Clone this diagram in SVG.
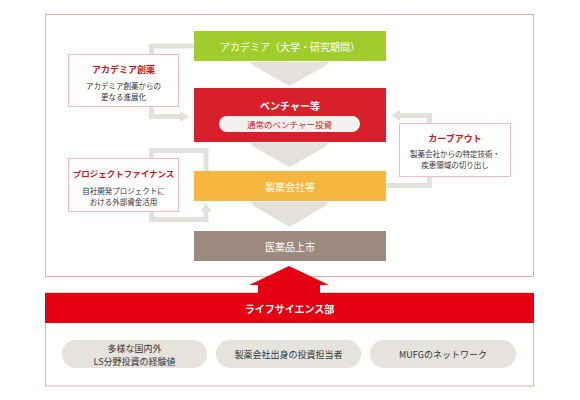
<svg xmlns="http://www.w3.org/2000/svg" width="580" height="400" viewBox="0 0 580 400">
  <style>
    text { font-family: "Noto Sans CJK JP", "Noto Sans", sans-serif; text-anchor: middle; dominant-baseline: central; }
    .wt { fill: #ffffff; font-size: 10px; }
    .wtb { fill: #ffffff; font-size: 10px; font-weight: bold; }
    .ttl { fill: #c8161e; font-size: 9px; font-weight: bold; }
    .sub { fill: #333333; font-size: 7.5px; }
    .pilltxt { fill: #333333; font-size: 9px; }
    .frame { fill: none; stroke: #e9a9a9; stroke-width: 1; }
    .side { fill: #ffffff; stroke: #edbcbc; stroke-width: 1; }
    .conn { fill: none; stroke: #e4e1dc; stroke-width: 5; stroke-linejoin: miter; }
    .head { fill: #e4e1dc; }
    .chev { fill: #e4e1dc; }
    .pill { fill: #e6e3de; }
  </style>

  <!-- outer frame -->
  <rect class="frame" x="45.5" y="14.5" width="488" height="262"/>

  <!-- connectors -->
  <g id="connectors">
    <path class="chev" d="M250,62 H329 L325,66 L289.5,86 L254,66 Z"/>
    <path class="chev" d="M250,143 H329 L325,147 L289.5,167 L254,147 Z"/>
    <path class="chev" d="M250,202 H329 L325,206 L289.5,227 L254,206 Z"/>

    <path class="conn" d="M194,46 H151.5 V54"/>
    <path class="conn" d="M151.5,107 V116.5 H181"/>
    <polygon class="head" points="180,111 189,116.5 180,122"/>

    <path class="conn" d="M386,185.5 H429.5 V177"/>
    <path class="conn" d="M429.5,123 V115.5 H400"/>
    <polygon class="head" points="400,110 391,115.5 400,121"/>

    <path class="conn" d="M206,171 V150.5 H151.5 V158"/>
    <path class="conn" d="M151.5,212 V219.5 H206 V211"/>
    <polygon class="head" points="200.5,211.5 206,203 211.5,211.5"/>
  </g>

  <g id="academia">
    <rect x="194" y="31" width="192" height="30" fill="#a0cd2c"/>
    <text class="wt" x="290" y="46">アカデミア（大学・研究期間）</text>
  </g>

  <g id="venture">
    <rect x="194" y="88" width="192" height="54" fill="#d7202b"/>
    <text class="wtb" x="290" y="105">ベンチャー等</text>
    <rect x="219" y="116" width="141" height="16" rx="8" fill="#f3f1ef"/>
    <text x="289.5" y="124" style="fill:#c8161e;font-size:8.5px;">通常のベンチャー投資</text>
  </g>

  <g id="pharma">
    <rect x="194" y="171" width="192" height="30" fill="#f6b63f"/>
    <text class="wt" x="290" y="186">製薬会社等</text>
  </g>

  <g id="market">
    <rect x="194" y="231" width="192" height="30" fill="#9c8a7f"/>
    <text class="wt" x="290" y="246">医薬品上市</text>
  </g>

  <g id="academia-drug">
    <rect class="side" x="68.5" y="54.5" width="110" height="52"/>
    <text class="ttl" x="123.5" y="69">アカデミア創薬</text>
    <text class="sub" x="123.5" y="85">アカデミア創薬からの</text>
    <text class="sub" x="123.5" y="96">更なる進展化</text>
  </g>

  <g id="project-finance">
    <rect class="side" x="68.5" y="158.5" width="110" height="53"/>
    <text class="ttl" x="123.5" y="173" style="font-size:8.5px;">プロジェクトファイナンス</text>
    <text class="sub" x="123.5" y="190">自社開発プロジェクトに</text>
    <text class="sub" x="123.5" y="201">おける外部資金活用</text>
  </g>

  <g id="carve-out">
    <rect class="side" x="399.5" y="123.5" width="111" height="53"/>
    <text class="ttl" x="455" y="138">カーブアウト</text>
    <text class="sub" x="455" y="153">製薬会社からの特定技術・</text>
    <text class="sub" x="455" y="164">疾患領域の切り出し</text>
  </g>

  <g id="life-science">
    <rect class="frame" x="45.5" y="293" width="488" height="93"/>
    <rect x="45" y="293" width="489" height="30" fill="#e50012"/>
    <polygon points="289,266 329,285 320,285 320,294 258,294 258,285 249,285" fill="#e50012"/>
    <text class="wtb" x="289.5" y="308">ライフサイエンス部</text>
  </g>

  <g id="pill-experience">
    <rect class="pill" x="62" y="340" width="145" height="28" rx="14"/>
    <text class="pilltxt" x="134.5" y="348.5">多様な国内外</text>
    <text class="pilltxt" x="134.5" y="361">LS分野投資の経験値</text>
  </g>

  <g id="pill-staff">
    <rect class="pill" x="216" y="340" width="145" height="28" rx="14"/>
    <text class="pilltxt" x="288.5" y="354">製薬会社出身の投資担当者</text>
  </g>

  <g id="pill-network">
    <rect class="pill" x="370" y="340" width="146" height="28" rx="14"/>
    <text class="pilltxt" x="443" y="354">MUFGのネットワーク</text>
  </g>
</svg>
